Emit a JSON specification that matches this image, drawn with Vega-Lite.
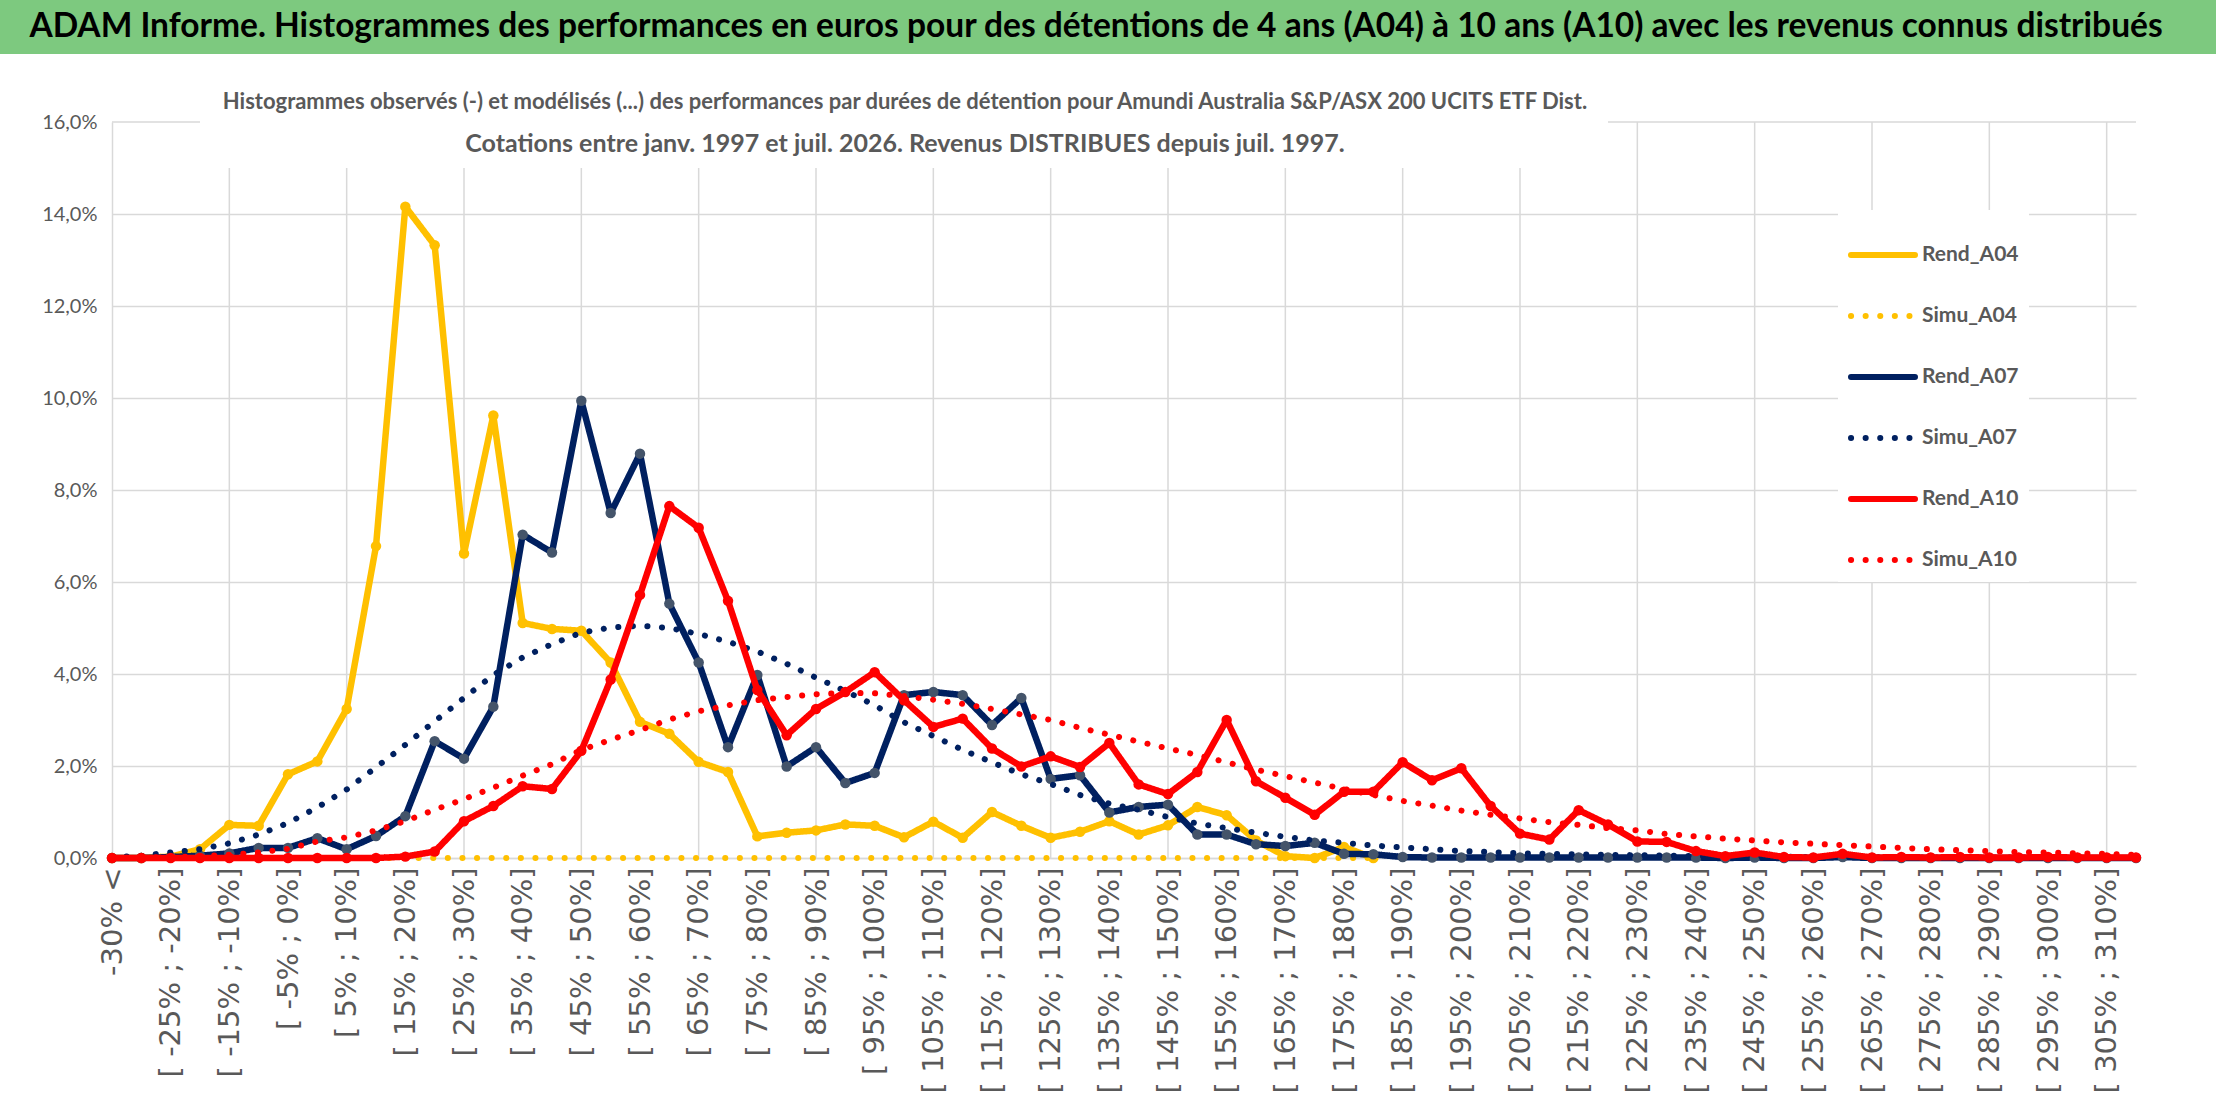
{
  "$schema": "https://vega.github.io/schema/vega-lite/v6.json",
  "padding": 0,
  "background": "white",
  "spacing": 37,
  "config": {
    "view": {"stroke": null},
    "axis": {"labelColor": "#595959", "domainColor": "#d9d9d9", "domainWidth": 1.5, "ticks": false, "title": null}
  },
  "datasets": {
    "perf": [
      {"c": "-30% <", "Rend_A04": 0, "Simu_A04": 0, "Rend_A07": 0, "Simu_A07": 0.02, "Rend_A10": 0, "Simu_A10": 0},
      {"c": "[ -30% ; -25%]", "Rend_A04": 0, "Simu_A04": 0, "Rend_A07": 0, "Simu_A07": 0.05, "Rend_A10": 0, "Simu_A10": 0.01},
      {"c": "[ -25% ; -20%]", "Rend_A04": 0.03, "Simu_A04": 0, "Rend_A07": 0.02, "Simu_A07": 0.12, "Rend_A10": 0, "Simu_A10": 0.02},
      {"c": "[ -20% ; -15%]", "Rend_A04": 0.19, "Simu_A04": 0, "Rend_A07": 0.05, "Simu_A07": 0.19, "Rend_A10": 0, "Simu_A10": 0.04},
      {"c": "[ -15% ; -10%]", "Rend_A04": 0.72, "Simu_A04": 0, "Rend_A07": 0.1, "Simu_A07": 0.32, "Rend_A10": 0, "Simu_A10": 0.07},
      {"c": "[ -10% ; -5%]", "Rend_A04": 0.7, "Simu_A04": 0, "Rend_A07": 0.22, "Simu_A07": 0.51, "Rend_A10": 0, "Simu_A10": 0.12},
      {"c": "[ -5% ; 0%]", "Rend_A04": 1.82, "Simu_A04": 0, "Rend_A07": 0.22, "Simu_A07": 0.76, "Rend_A10": 0, "Simu_A10": 0.2},
      {"c": "[ 0% ; 5%]", "Rend_A04": 2.1, "Simu_A04": 0, "Rend_A07": 0.43, "Simu_A07": 1.1, "Rend_A10": 0, "Simu_A10": 0.36},
      {"c": "[ 5% ; 10%]", "Rend_A04": 3.24, "Simu_A04": 0, "Rend_A07": 0.19, "Simu_A07": 1.49, "Rend_A10": 0, "Simu_A10": 0.45},
      {"c": "[ 10% ; 15%]", "Rend_A04": 6.78, "Simu_A04": 0, "Rend_A07": 0.48, "Simu_A07": 1.97, "Rend_A10": 0, "Simu_A10": 0.6},
      {"c": "[ 15% ; 20%]", "Rend_A04": 14.16, "Simu_A04": 0, "Rend_A07": 0.91, "Simu_A07": 2.46, "Rend_A10": 0.03, "Simu_A10": 0.8},
      {"c": "[ 20% ; 25%]", "Rend_A04": 13.32, "Simu_A04": 0, "Rend_A07": 2.54, "Simu_A07": 2.97, "Rend_A10": 0.14, "Simu_A10": 1.05},
      {"c": "[ 25% ; 30%]", "Rend_A04": 6.62, "Simu_A04": 0, "Rend_A07": 2.16, "Simu_A07": 3.48, "Rend_A10": 0.8, "Simu_A10": 1.28},
      {"c": "[ 30% ; 35%]", "Rend_A04": 9.62, "Simu_A04": 0, "Rend_A07": 3.29, "Simu_A07": 3.98, "Rend_A10": 1.13, "Simu_A10": 1.53},
      {"c": "[ 35% ; 40%]", "Rend_A04": 5.11, "Simu_A04": 0, "Rend_A07": 7.03, "Simu_A07": 4.36, "Rend_A10": 1.56, "Simu_A10": 1.79},
      {"c": "[ 40% ; 45%]", "Rend_A04": 4.98, "Simu_A04": 0, "Rend_A07": 6.64, "Simu_A07": 4.65, "Rend_A10": 1.5, "Simu_A10": 2.04},
      {"c": "[ 45% ; 50%]", "Rend_A04": 4.94, "Simu_A04": 0, "Rend_A07": 9.94, "Simu_A07": 4.9, "Rend_A10": 2.33, "Simu_A10": 2.35},
      {"c": "[ 50% ; 55%]", "Rend_A04": 4.25, "Simu_A04": 0, "Rend_A07": 7.5, "Simu_A07": 5.01, "Rend_A10": 3.88, "Simu_A10": 2.57},
      {"c": "[ 55% ; 60%]", "Rend_A04": 2.96, "Simu_A04": 0, "Rend_A07": 8.79, "Simu_A07": 5.05, "Rend_A10": 5.72, "Simu_A10": 2.78},
      {"c": "[ 60% ; 65%]", "Rend_A04": 2.7, "Simu_A04": 0, "Rend_A07": 5.53, "Simu_A07": 5.0, "Rend_A10": 7.65, "Simu_A10": 3.01},
      {"c": "[ 65% ; 70%]", "Rend_A04": 2.09, "Simu_A04": 0, "Rend_A07": 4.25, "Simu_A07": 4.87, "Rend_A10": 7.18, "Simu_A10": 3.19},
      {"c": "[ 70% ; 75%]", "Rend_A04": 1.87, "Simu_A04": 0, "Rend_A07": 2.41, "Simu_A07": 4.7, "Rend_A10": 5.59, "Simu_A10": 3.32},
      {"c": "[ 75% ; 80%]", "Rend_A04": 0.47, "Simu_A04": 0, "Rend_A07": 3.98, "Simu_A07": 4.49, "Rend_A10": 3.65, "Simu_A10": 3.43},
      {"c": "[ 80% ; 85%]", "Rend_A04": 0.55, "Simu_A04": 0, "Rend_A07": 1.99, "Simu_A07": 4.22, "Rend_A10": 2.67, "Simu_A10": 3.5},
      {"c": "[ 85% ; 90%]", "Rend_A04": 0.6, "Simu_A04": 0, "Rend_A07": 2.41, "Simu_A07": 3.92, "Rend_A10": 3.24, "Simu_A10": 3.56},
      {"c": "[ 90% ; 95%]", "Rend_A04": 0.73, "Simu_A04": 0, "Rend_A07": 1.63, "Simu_A07": 3.63, "Rend_A10": 3.61, "Simu_A10": 3.59},
      {"c": "[ 95% ; 100%]", "Rend_A04": 0.7, "Simu_A04": 0, "Rend_A07": 1.85, "Simu_A07": 3.32, "Rend_A10": 4.04, "Simu_A10": 3.58},
      {"c": "[ 100% ; 105%]", "Rend_A04": 0.45, "Simu_A04": 0, "Rend_A07": 3.54, "Simu_A07": 2.95, "Rend_A10": 3.43, "Simu_A10": 3.52},
      {"c": "[ 105% ; 110%]", "Rend_A04": 0.79, "Simu_A04": 0, "Rend_A07": 3.61, "Simu_A07": 2.65, "Rend_A10": 2.85, "Simu_A10": 3.44},
      {"c": "[ 110% ; 115%]", "Rend_A04": 0.44, "Simu_A04": 0, "Rend_A07": 3.54, "Simu_A07": 2.35, "Rend_A10": 3.03, "Simu_A10": 3.35},
      {"c": "[ 115% ; 120%]", "Rend_A04": 1.0, "Simu_A04": 0, "Rend_A07": 2.89, "Simu_A07": 2.08, "Rend_A10": 2.38, "Simu_A10": 3.24},
      {"c": "[ 120% ; 125%]", "Rend_A04": 0.7, "Simu_A04": 0, "Rend_A07": 3.48, "Simu_A07": 1.82, "Rend_A10": 1.99, "Simu_A10": 3.12},
      {"c": "[ 125% ; 130%]", "Rend_A04": 0.44, "Simu_A04": 0, "Rend_A07": 1.72, "Simu_A07": 1.61, "Rend_A10": 2.21, "Simu_A10": 3.0},
      {"c": "[ 130% ; 135%]", "Rend_A04": 0.57, "Simu_A04": 0, "Rend_A07": 1.8, "Simu_A07": 1.37, "Rend_A10": 1.98, "Simu_A10": 2.83},
      {"c": "[ 135% ; 140%]", "Rend_A04": 0.8, "Simu_A04": 0, "Rend_A07": 0.99, "Simu_A07": 1.18, "Rend_A10": 2.5, "Simu_A10": 2.68},
      {"c": "[ 140% ; 145%]", "Rend_A04": 0.51, "Simu_A04": 0, "Rend_A07": 1.11, "Simu_A07": 1.05, "Rend_A10": 1.6, "Simu_A10": 2.53},
      {"c": "[ 145% ; 150%]", "Rend_A04": 0.71, "Simu_A04": 0, "Rend_A07": 1.16, "Simu_A07": 0.89, "Rend_A10": 1.39, "Simu_A10": 2.38},
      {"c": "[ 150% ; 155%]", "Rend_A04": 1.11, "Simu_A04": 0, "Rend_A07": 0.51, "Simu_A07": 0.75, "Rend_A10": 1.87, "Simu_A10": 2.24},
      {"c": "[ 155% ; 160%]", "Rend_A04": 0.93, "Simu_A04": 0, "Rend_A07": 0.51, "Simu_A07": 0.65, "Rend_A10": 3.0, "Simu_A10": 2.08},
      {"c": "[ 160% ; 165%]", "Rend_A04": 0.38, "Simu_A04": 0, "Rend_A07": 0.3, "Simu_A07": 0.55, "Rend_A10": 1.67, "Simu_A10": 1.92},
      {"c": "[ 165% ; 170%]", "Rend_A04": 0.04, "Simu_A04": 0, "Rend_A07": 0.26, "Simu_A07": 0.46, "Rend_A10": 1.31, "Simu_A10": 1.78},
      {"c": "[ 170% ; 175%]", "Rend_A04": 0, "Simu_A04": 0, "Rend_A07": 0.33, "Simu_A07": 0.38, "Rend_A10": 0.94, "Simu_A10": 1.64},
      {"c": "[ 175% ; 180%]", "Rend_A04": 0.24, "Simu_A04": 0, "Rend_A07": 0.09, "Simu_A07": 0.33, "Rend_A10": 1.44, "Simu_A10": 1.5},
      {"c": "[ 180% ; 185%]", "Rend_A04": 0, "Simu_A04": 0, "Rend_A07": 0.08, "Simu_A07": 0.27, "Rend_A10": 1.44, "Simu_A10": 1.37},
      {"c": "[ 185% ; 190%]", "Rend_A07": 0.02, "Simu_A07": 0.23, "Rend_A10": 2.08, "Simu_A10": 1.24},
      {"c": "[ 190% ; 195%]", "Rend_A07": 0.01, "Simu_A07": 0.19, "Rend_A10": 1.69, "Simu_A10": 1.14},
      {"c": "[ 195% ; 200%]", "Rend_A07": 0.01, "Simu_A07": 0.15, "Rend_A10": 1.95, "Simu_A10": 1.03},
      {"c": "[ 200% ; 205%]", "Rend_A07": 0.01, "Simu_A07": 0.13, "Rend_A10": 1.13, "Simu_A10": 0.94},
      {"c": "[ 205% ; 210%]", "Rend_A07": 0.01, "Simu_A07": 0.1, "Rend_A10": 0.53, "Simu_A10": 0.86},
      {"c": "[ 210% ; 215%]", "Rend_A07": 0.01, "Simu_A07": 0.09, "Rend_A10": 0.4, "Simu_A10": 0.78},
      {"c": "[ 215% ; 220%]", "Rend_A07": 0.01, "Simu_A07": 0.08, "Rend_A10": 1.04, "Simu_A10": 0.72},
      {"c": "[ 220% ; 225%]", "Rend_A07": 0.01, "Simu_A07": 0.07, "Rend_A10": 0.73, "Simu_A10": 0.65},
      {"c": "[ 225% ; 230%]", "Rend_A07": 0.01, "Simu_A07": 0.06, "Rend_A10": 0.36, "Simu_A10": 0.6},
      {"c": "[ 230% ; 235%]", "Rend_A07": 0.01, "Simu_A07": 0.05, "Rend_A10": 0.35, "Simu_A10": 0.52},
      {"c": "[ 235% ; 240%]", "Rend_A07": 0.01, "Simu_A07": 0.04, "Rend_A10": 0.15, "Simu_A10": 0.47},
      {"c": "[ 240% ; 245%]", "Rend_A07": 0, "Simu_A07": 0.04, "Rend_A10": 0.04, "Simu_A10": 0.42},
      {"c": "[ 245% ; 250%]", "Rend_A07": 0.01, "Simu_A07": 0.03, "Rend_A10": 0.12, "Simu_A10": 0.38},
      {"c": "[ 250% ; 255%]", "Rend_A07": 0, "Simu_A07": 0.03, "Rend_A10": 0.02, "Simu_A10": 0.34},
      {"c": "[ 255% ; 260%]", "Rend_A07": 0, "Simu_A07": 0.02, "Rend_A10": 0.01, "Simu_A10": 0.31},
      {"c": "[ 260% ; 265%]", "Rend_A07": 0.02, "Simu_A07": 0.02, "Rend_A10": 0.09, "Simu_A10": 0.28},
      {"c": "[ 265% ; 270%]", "Rend_A07": 0, "Simu_A07": 0.02, "Rend_A10": 0.01, "Simu_A10": 0.25},
      {"c": "[ 270% ; 275%]", "Rend_A07": 0, "Simu_A07": 0.01, "Rend_A10": 0.02, "Simu_A10": 0.22},
      {"c": "[ 275% ; 280%]", "Rend_A07": 0, "Simu_A07": 0.01, "Rend_A10": 0.01, "Simu_A10": 0.19},
      {"c": "[ 280% ; 285%]", "Rend_A07": 0, "Simu_A07": 0.01, "Rend_A10": 0.02, "Simu_A10": 0.17},
      {"c": "[ 285% ; 290%]", "Rend_A07": 0, "Simu_A07": 0.01, "Rend_A10": 0.01, "Simu_A10": 0.15},
      {"c": "[ 290% ; 295%]", "Rend_A07": 0, "Simu_A07": 0.01, "Rend_A10": 0.01, "Simu_A10": 0.13},
      {"c": "[ 295% ; 300%]", "Rend_A07": 0, "Simu_A07": 0.01, "Rend_A10": 0.02, "Simu_A10": 0.12},
      {"c": "[ 300% ; 305%]", "Rend_A07": 0, "Simu_A07": 0, "Rend_A10": 0.01, "Simu_A10": 0.1},
      {"c": "[ 305% ; 310%]", "Rend_A07": 0, "Simu_A07": 0, "Rend_A10": 0.01, "Simu_A10": 0.09},
      {"c": "[ 310% ; 315%]", "Rend_A07": 0, "Simu_A07": 0, "Rend_A10": 0.01, "Simu_A10": 0.07}
    ]
  },
  "vconcat": [
    {
      "width": 2216,
      "height": 54,
      "view": {"fill": "#7dc97f", "stroke": null},
      "data": {"values": [{"titre": "ADAM Informe. Histogrammes des performances en euros pour des détentions de 4 ans (A04) à 10 ans (A10) avec les revenus connus distribués"}]},
      "mark": {"type": "text", "font": "Lato", "fontSize": 33.5, "fontWeight": "bold", "color": "#000000", "dx": -12},
      "encoding": {"text": {"field": "titre"}}
    },
    {
      "width": 2136,
      "height": 736,
      "title": {
        "text": "Histogrammes observés (-) et modélisés (...) des performances par durées de détention pour Amundi Australia S&P/ASX 200 UCITS ETF Dist.",
        "subtitle": "Cotations entre janv. 1997 et juil. 2026. Revenus DISTRIBUES depuis juil. 1997.",
        "anchor": "middle",
        "dx": -163,
        "offset": -46,
        "font": "Lato",
        "fontSize": 22,
        "fontWeight": "bold",
        "color": "#595959",
        "subtitleFont": "Lato",
        "subtitleFontSize": 25,
        "subtitleFontWeight": "bold",
        "subtitleColor": "#595959",
        "subtitlePadding": 18
      },
      "layer": [
        {
          "data": {"values": [
            {"c": "[ -15% ; -10%]"}, {"c": "[ 5% ; 10%]"}, {"c": "[ 25% ; 30%]"}, {"c": "[ 45% ; 50%]"},
            {"c": "[ 65% ; 70%]"}, {"c": "[ 85% ; 90%]"}, {"c": "[ 105% ; 110%]"}, {"c": "[ 125% ; 130%]"},
            {"c": "[ 145% ; 150%]"}, {"c": "[ 165% ; 170%]"}, {"c": "[ 185% ; 190%]"}, {"c": "[ 205% ; 210%]"}
          ]},
          "mark": {"type": "rule", "color": "#d9d9d9", "strokeWidth": 1.5},
          "encoding": {
            "x": {"field": "c", "type": "nominal"},
            "y": {"datum": 0, "type": "quantitative"},
            "y2": {"datum": 15}
          }
        },
        {
          "data": {"values": [
            {"c": "[ 225% ; 230%]"}, {"c": "[ 245% ; 250%]"}, {"c": "[ 265% ; 270%]"}, {"c": "[ 285% ; 290%]"}, {"c": "[ 305% ; 310%]"}
          ]},
          "mark": {"type": "rule", "color": "#d9d9d9", "strokeWidth": 1.5},
          "encoding": {
            "x": {"field": "c", "type": "nominal"},
            "y": {"datum": 0, "type": "quantitative"},
            "y2": {"datum": 16}
          }
        },
        {
          "data": {"values": [
            {"a": "-30% <", "b": "[ -20% ; -15%]"},
            {"a": "[ 220% ; 225%]", "b": "[ 310% ; 315%]"}
          ]},
          "mark": {"type": "rule", "color": "#d9d9d9", "strokeWidth": 1.5},
          "encoding": {
            "x": {"field": "a", "type": "nominal"},
            "x2": {"field": "b"},
            "y": {"datum": 16, "type": "quantitative"}
          }
        },
        {
          "data": {"name": "perf"},
          "transform": [
            {"fold": ["Rend_A04", "Simu_A04", "Rend_A07", "Simu_A07", "Rend_A10", "Simu_A10"], "as": ["s", "v"]},
            {"filter": "isValid(datum.v)"}
          ],
          "encoding": {
            "x": {
              "field": "c",
              "type": "nominal",
              "scale": {"type": "point", "padding": 0, "range": [112, 2136], "domain": [
                "-30% <", "[ -30% ; -25%]", "[ -25% ; -20%]", "[ -20% ; -15%]", "[ -15% ; -10%]", "[ -10% ; -5%]", "[ -5% ; 0%]", "[ 0% ; 5%]", "[ 5% ; 10%]", "[ 10% ; 15%]",
                "[ 15% ; 20%]", "[ 20% ; 25%]", "[ 25% ; 30%]", "[ 30% ; 35%]", "[ 35% ; 40%]", "[ 40% ; 45%]", "[ 45% ; 50%]", "[ 50% ; 55%]", "[ 55% ; 60%]", "[ 60% ; 65%]",
                "[ 65% ; 70%]", "[ 70% ; 75%]", "[ 75% ; 80%]", "[ 80% ; 85%]", "[ 85% ; 90%]", "[ 90% ; 95%]", "[ 95% ; 100%]", "[ 100% ; 105%]", "[ 105% ; 110%]", "[ 110% ; 115%]",
                "[ 115% ; 120%]", "[ 120% ; 125%]", "[ 125% ; 130%]", "[ 130% ; 135%]", "[ 135% ; 140%]", "[ 140% ; 145%]", "[ 145% ; 150%]", "[ 150% ; 155%]", "[ 155% ; 160%]", "[ 160% ; 165%]",
                "[ 165% ; 170%]", "[ 170% ; 175%]", "[ 175% ; 180%]", "[ 180% ; 185%]", "[ 185% ; 190%]", "[ 190% ; 195%]", "[ 195% ; 200%]", "[ 200% ; 205%]", "[ 205% ; 210%]", "[ 210% ; 215%]",
                "[ 215% ; 220%]", "[ 220% ; 225%]", "[ 225% ; 230%]", "[ 230% ; 235%]", "[ 235% ; 240%]", "[ 240% ; 245%]", "[ 245% ; 250%]", "[ 250% ; 255%]", "[ 255% ; 260%]", "[ 260% ; 265%]",
                "[ 265% ; 270%]", "[ 270% ; 275%]", "[ 275% ; 280%]", "[ 280% ; 285%]", "[ 285% ; 290%]", "[ 290% ; 295%]", "[ 295% ; 300%]", "[ 300% ; 305%]", "[ 305% ; 310%]", "[ 310% ; 315%]"
              ]},
              "axis": {
                "values": [
                  "-30% <", "[ -25% ; -20%]", "[ -15% ; -10%]", "[ -5% ; 0%]", "[ 5% ; 10%]", "[ 15% ; 20%]", "[ 25% ; 30%]", "[ 35% ; 40%]", "[ 45% ; 50%]", "[ 55% ; 60%]",
                  "[ 65% ; 70%]", "[ 75% ; 80%]", "[ 85% ; 90%]", "[ 95% ; 100%]", "[ 105% ; 110%]", "[ 115% ; 120%]", "[ 125% ; 130%]", "[ 135% ; 140%]", "[ 145% ; 150%]", "[ 155% ; 160%]",
                  "[ 165% ; 170%]", "[ 175% ; 180%]", "[ 185% ; 190%]", "[ 195% ; 200%]", "[ 205% ; 210%]", "[ 215% ; 220%]", "[ 225% ; 230%]", "[ 235% ; 240%]", "[ 245% ; 250%]", "[ 255% ; 260%]",
                  "[ 265% ; 270%]", "[ 275% ; 280%]", "[ 285% ; 290%]", "[ 295% ; 300%]", "[ 305% ; 310%]"
                ],
                "labelAngle": -90,
                "labelFont": "DejaVu Sans",
                "labelFontSize": 29,
                "labelPadding": 9,
                "labelOverlap": false,
                "labelLimit": 400,
                "grid": false
              }
            },
            "y": {
              "field": "v",
              "type": "quantitative",
              "scale": {"domain": [0, 16], "nice": false},
              "axis": {
                "values": [0, 2, 4, 6, 8, 10, 12, 14, 16],
                "labelExpr": "replace(format(datum.value, '.1f'), '.', ',') + '%'",
                "labelFont": "Lato",
                "labelFontSize": 20,
                "labelPadding": 15,
                "offset": -112,
                "grid": true,
                "gridColor": {"condition": {"test": "datum.value > 15", "value": "transparent"}, "value": "#d9d9d9"},
                "gridWidth": 1.5
              }
            }
          },
          "layer": [
            {
              "transform": [{"filter": "datum.s == 'Rend_A04'"}],
              "mark": {"type": "line", "strokeWidth": 6.5, "strokeCap": "round", "strokeJoin": "round"},
              "encoding": {
                "color": {
                  "field": "s",
                  "type": "nominal",
                  "scale": {
                    "domain": ["Rend_A04", "Simu_A04", "Rend_A07", "Simu_A07", "Rend_A10", "Simu_A10"],
                    "range": ["#ffc000", "#ffc000", "#002060", "#002060", "#ff0000", "#ff0000"]
                  },
                  "legend": {
                    "orient": "none",
                    "legendX": 1838,
                    "legendY": 210,
                    "title": null,
                    "symbolType": "stroke",
                    "symbolSize": 4096,
                    "symbolStrokeWidth": 6,
                    "labelFont": "Lato",
                    "labelFontSize": 21,
                    "labelFontWeight": "bold",
                    "labelColor": "#595959",
                    "labelOffset": 4,
                    "labelLimit": 300,
                    "rowPadding": 14,
                    "fillColor": "white",
                    "padding": 10,
                    "encode": {"symbols": {"update": {"strokeCap": {"value": "round"}}}}
                  }
                },
                "strokeDash": {
                  "field": "s",
                  "type": "nominal",
                  "scale": {
                    "domain": ["Rend_A04", "Simu_A04", "Rend_A07", "Simu_A07", "Rend_A10", "Simu_A10"],
                    "range": [[1, 0], [0.1, 14.5], [1, 0], [0.1, 14.5], [1, 0], [0.1, 14.5]]
                  },
                  "legend": null
                }
              }
            },
            {
              "transform": [{"filter": "datum.s == 'Rend_A04'"}],
              "mark": {"type": "point", "filled": true, "size": 110, "opacity": 1},
              "encoding": {
                "fill": {"field": "s", "type": "nominal", "scale": {"domain": ["Rend_A04", "Rend_A07", "Rend_A10"], "range": ["#ffc000", "#44546a", "#ff0000"]}, "legend": null}
              }
            },
            {
              "transform": [{"filter": "datum.s == 'Simu_A04'"}],
              "mark": {"type": "line", "strokeWidth": 6, "strokeCap": "round", "strokeJoin": "round"},
              "encoding": {"color": {"field": "s", "type": "nominal"}, "strokeDash": {"field": "s", "type": "nominal", "legend": null}}
            },
            {
              "transform": [{"filter": "datum.s == 'Rend_A07'"}],
              "mark": {"type": "line", "strokeWidth": 6.5, "strokeCap": "round", "strokeJoin": "round"},
              "encoding": {"color": {"field": "s", "type": "nominal"}, "strokeDash": {"field": "s", "type": "nominal", "legend": null}}
            },
            {
              "transform": [{"filter": "datum.s == 'Rend_A07'"}],
              "mark": {"type": "point", "filled": true, "size": 110, "opacity": 1},
              "encoding": {"fill": {"field": "s", "type": "nominal", "legend": null}}
            },
            {
              "transform": [{"filter": "datum.s == 'Simu_A07'"}],
              "mark": {"type": "line", "strokeWidth": 6, "strokeCap": "round", "strokeJoin": "round"},
              "encoding": {"color": {"field": "s", "type": "nominal"}, "strokeDash": {"field": "s", "type": "nominal", "legend": null}}
            },
            {
              "transform": [{"filter": "datum.s == 'Rend_A10'"}],
              "mark": {"type": "line", "strokeWidth": 6.5, "strokeCap": "round", "strokeJoin": "round"},
              "encoding": {"color": {"field": "s", "type": "nominal"}, "strokeDash": {"field": "s", "type": "nominal", "legend": null}}
            },
            {
              "transform": [{"filter": "datum.s == 'Rend_A10'"}],
              "mark": {"type": "point", "filled": true, "size": 110, "opacity": 1},
              "encoding": {"fill": {"field": "s", "type": "nominal", "legend": null}}
            },
            {
              "transform": [{"filter": "datum.s == 'Simu_A10'"}],
              "mark": {"type": "line", "strokeWidth": 6, "strokeCap": "round", "strokeJoin": "round"},
              "encoding": {"color": {"field": "s", "type": "nominal"}, "strokeDash": {"field": "s", "type": "nominal", "legend": null}}
            }
          ]
        }
      ]
    }
  ]
}
